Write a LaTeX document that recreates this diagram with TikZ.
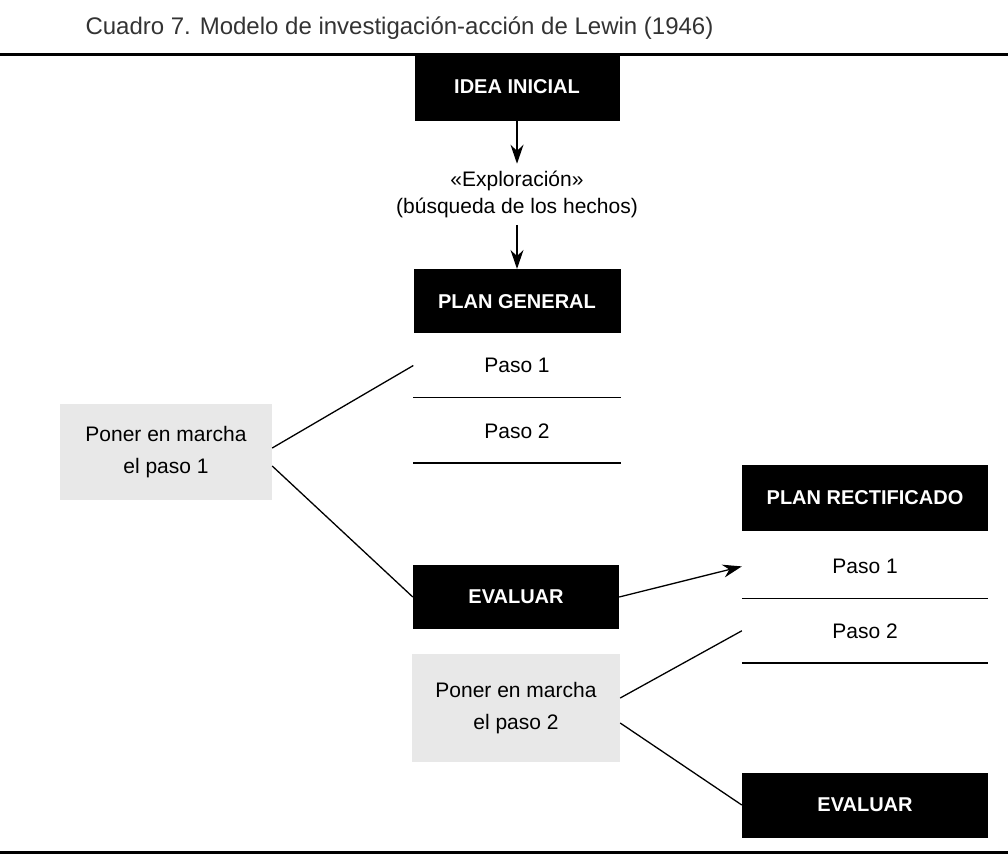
\documentclass[tikz,border=0pt]{standalone}
\usepackage{fontspec}
\setmainfont{Liberation Sans}
\usetikzlibrary{positioning,arrows.meta}

\tikzset{
  blackbox/.style={fill=black, text=white, inner sep=0pt, minimum height=64pt, font=\fontsize{20}{25}\selectfont\bfseries},
  greybox/.style={fill=black!9, align=center, inner sep=0pt, font=\fontsize{21}{32}\selectfont},
  paso/.style={inner sep=0pt, minimum height=64pt, font=\fontsize{21}{25}\selectfont},
  link/.style={line width=1.3pt},
  flecha/.style={line width=1.3pt, -{Stealth[length=19pt,width=13pt]}}
}

\begin{document}
\begin{tikzpicture}[x=1pt,y=-1pt]
\useasboundingbox (0,0) rectangle (1008,863);

\node[anchor=base west, text=black!80, font=\fontsize{24}{28}\selectfont] (titulo) at (82,34) {Cuadro 7. Modelo de investigación-acción de Lewin (1946)};
\draw[line width=3pt] (0,54) -- (1008,54);
\draw[line width=3pt] (0,852) -- (1008,852);

% columna central
\node[blackbox, minimum width=205pt, minimum height=67pt] (idea) at (517,87) {IDEA INICIAL};
\node[below=43pt of idea, align=center, inner xsep=0pt, inner ysep=7pt, font=\fontsize{21}{27}\selectfont] (explor) {«Exploración»\\(búsqueda de los hechos)};
\node[blackbox, minimum width=207pt, below=44pt of explor] (pgen) {PLAN GENERAL};
\node[paso, minimum width=207pt, below=0pt of pgen] (pg1) {Paso 1};
\node[paso, minimum width=207pt, below=1pt of pg1] (pg2) {Paso 2};
\node[blackbox, minimum width=206pt] (eval1) at (516,597) {EVALUAR};

\node[greybox, minimum width=212pt, minimum height=96pt] (marcha1) at (166,452) {Poner en marcha\\el paso 1};
\node[greybox, minimum width=208pt, minimum height=108pt] (marcha2) at (516,708) {Poner en marcha\\el paso 2};

% columna derecha
\node[blackbox, minimum width=246pt, minimum height=66pt] (rect) at (865,498) {PLAN RECTIFICADO};
\node[paso, minimum width=246pt, below=3pt of rect] (pr1) {Paso 1};
\node[paso, minimum width=246pt, below=0pt of pr1] (pr2) {Paso 2};
\node[blackbox, minimum width=246pt, minimum height=65pt] (eval2) at (865,805) {EVALUAR};

\draw[flecha] (idea) -- (explor);
\draw[flecha] (explor) -- (pgen);
\draw[link] (pg1.south west) -- (pg1.south east);
\draw[link] (pg2.south west) -- (pg2.south east);
\draw[link] (pr1.south west) -- (pr1.south east);
\draw[link] (pr2.south west) -- (pr2.south east);

\draw[link] ([yshift=4pt]marcha1.east) -- (pg1.west);
\draw[link] ([yshift=-14pt]marcha1.east) -- (eval1.west);
\draw[flecha] (eval1.east) -- (pr1.west);
\draw[link] ([yshift=10pt]marcha2.east) -- (pr2.west);
\draw[link] ([yshift=-15pt]marcha2.east) -- (eval2.west);
\end{tikzpicture}
\end{document}
